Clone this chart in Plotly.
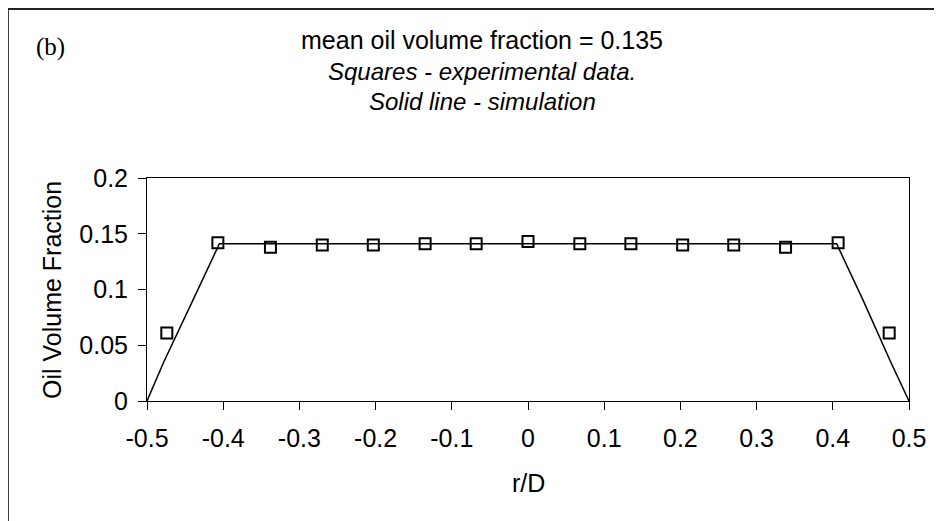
import plotly.graph_objects as go

# Experimental data (squares)
exp_r = [-0.474, -0.407, -0.338, -0.270, -0.203, -0.135, -0.068, 0.0,
         0.068, 0.135, 0.203, 0.270, 0.338, 0.407, 0.474]
exp_frac = [0.061, 0.142, 0.138, 0.140, 0.140, 0.141, 0.141, 0.143,
            0.141, 0.141, 0.140, 0.140, 0.138, 0.142, 0.061]

# Simulation (solid line)
sim_r = [-0.5, -0.478, -0.44, -0.405, 0.405, 0.44, 0.476, 0.5]
sim_frac = [0.0, 0.035, 0.09, 0.141, 0.141, 0.09, 0.035, 0.0]

x_ticks = [-0.5, -0.4, -0.3, -0.2, -0.1, 0, 0.1, 0.2, 0.3, 0.4, 0.5]
x_tick_labels = ["-0.5", "-0.4", "-0.3", "-0.2", "-0.1", "0", "0.1", "0.2", "0.3", "0.4", "0.5"]
y_ticks = [0, 0.05, 0.1, 0.15, 0.2]
y_tick_labels = ["0", "0.05", "0.1", "0.15", "0.2"]

FONT = "Liberation Sans, Arial, Helvetica, sans-serif"

fig = go.Figure()
fig.add_trace(go.Scatter(x=sim_r, y=sim_frac, mode="lines",
                         line=dict(color="black", width=1.5), showlegend=False,
                         cliponaxis=False))
fig.add_trace(go.Scatter(x=exp_r, y=exp_frac, mode="markers",
                         marker=dict(symbol="square-open", size=11,
                                     line=dict(color="black", width=2), color="black"),
                         showlegend=False, cliponaxis=False))

# page body has an 8px margin; figure origin on screen is (8, 8)
OFF = 8
W, H = 934, 513
L, R, T, B = 147 - OFF, W - (909 - OFF), 178 - OFF, H - (401 - OFF)
pw, ph = W - L - R, H - T - B

def px(x):
    return (x - OFF - L) / pw

def py(y):
    return (H - B - (y - OFF)) / ph

fig.update_layout(
    width=W, height=H,
    margin=dict(l=L, r=R, t=T, b=B, pad=0),
    paper_bgcolor="white", plot_bgcolor="white",
    font=dict(family=FONT, color="black", size=25),
    xaxis=dict(range=[-0.5, 0.5], tickvals=x_ticks, ticktext=x_tick_labels,
               ticks="outside", ticklen=8, tickcolor="black", tickwidth=1,
               showline=True, linecolor="black", linewidth=1, mirror=True,
               showgrid=False, zeroline=False, tickfont=dict(size=25),
               ticklabelstandoff=7),
    yaxis=dict(range=[0, 0.2], tickvals=y_ticks, ticktext=y_tick_labels,
               ticks="outside", ticklen=8, tickcolor="black", tickwidth=1,
               showline=True, linecolor="black", linewidth=1, mirror=True,
               showgrid=False, zeroline=False, tickfont=dict(size=25),
               ticklabelstandoff=5),
    annotations=[
        dict(text="mean oil volume fraction = 0.135", x=px(482), y=py(40),
             xref="paper", yref="paper", showarrow=False, font=dict(size=25),
             xanchor="center", yanchor="middle"),
        dict(text="<i>Squares - experimental data.</i>", x=px(482), y=py(72),
             xref="paper", yref="paper", showarrow=False, font=dict(size=24),
             xanchor="center", yanchor="middle"),
        dict(text="<i>Solid line - simulation</i>", x=px(482), y=py(102),
             xref="paper", yref="paper", showarrow=False, font=dict(size=24),
             xanchor="center", yanchor="middle"),
        dict(text="(b)", x=px(50), y=py(47), xref="paper", yref="paper",
             showarrow=False, xanchor="center", yanchor="middle",
             font=dict(family="Liberation Serif, Times New Roman, serif", size=25)),
        dict(text="Oil Volume Fraction", x=px(52), y=py(290), xref="paper", yref="paper",
             showarrow=False, textangle=-90, xanchor="center", yanchor="middle",
             font=dict(size=25)),
        dict(text="r/D", x=0.5, y=py(483), xref="paper", yref="paper",
             showarrow=False, xanchor="center", yanchor="middle", font=dict(size=25)),
    ],
    shapes=[
        dict(type="line", xref="paper", yref="paper", x0=px(8), x1=px(960),
             y0=py(9), y1=py(9), line=dict(color="#222222", width=2)),
        dict(type="line", xref="paper", yref="paper", x0=px(8), x1=px(8),
             y0=py(9), y1=py(540), line=dict(color="black", width=1.5)),
    ],
)

fig.write_html(
    "out.html",
    post_script="document.documentElement.style.overflow='hidden';"
                "document.body.style.overflow='hidden';",
)
